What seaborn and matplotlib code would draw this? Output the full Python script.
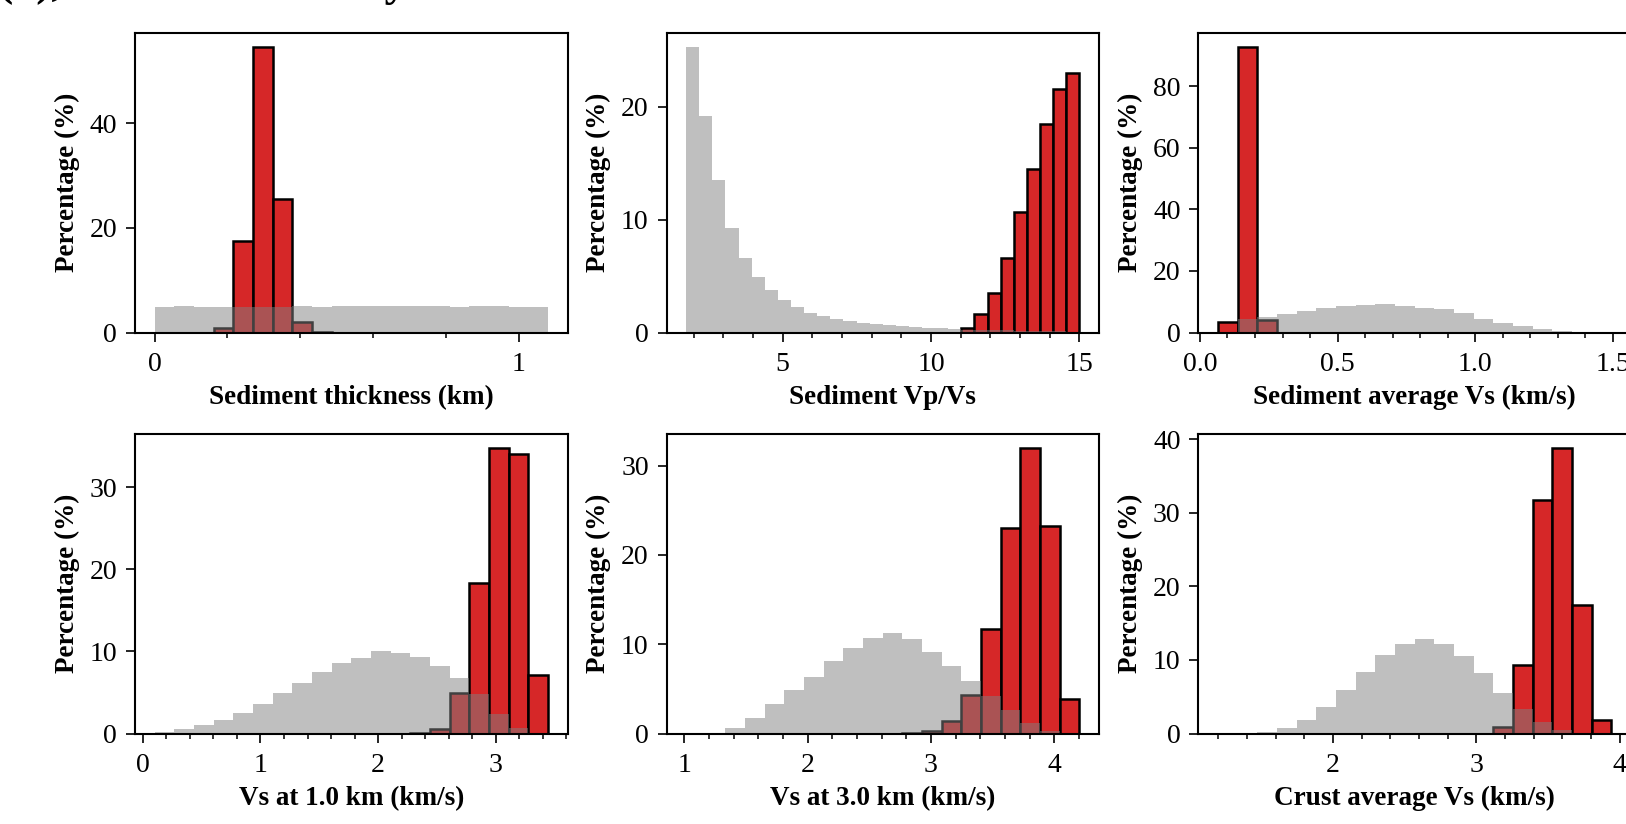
import numpy as np
import matplotlib
matplotlib.use("Agg")
import matplotlib.pyplot as plt
import seaborn as sns
from matplotlib.ticker import MultipleLocator

# ---------------- data (percentages per bin) ----------------
x_labels = ["Sediment thickness (km)", "Sediment Vp/Vs", "Sediment average Vs (km/s)",
            "Vs at 1.0 km (km/s)", "Vs at 3.0 km (km/s)", "Crust average Vs (km/s)"]
y_label = "Percentage (%)"

bin_lo = [0.0, 1.75, 0.0658, 0.100, 1.015, 1.197]
bin_hi = [1.08, 15.0, 1.494, 3.444, 4.204, 3.941]
n_bins = [20, 30, 20, 20, 20, 20]

prior_sed_thick = [4.9, 5.15, 4.95, 4.9, 4.95, 4.95, 4.9, 5.0, 4.95, 5.05,
                   5.0, 5.0, 5.05, 5.1, 5.0, 4.95, 5.0, 5.0, 4.95, 4.9]
post_sed_thick = [0, 0, 0, 0.8, 17.5, 54.6, 25.5, 2.0, 0.1, 0,
                  0, 0, 0, 0, 0, 0, 0, 0, 0, 0]

prior_vpvs = [25.3, 19.2, 13.5, 9.25, 6.6, 4.95, 3.8, 2.85, 2.25, 1.75,
              1.45, 1.2, 1.0, 0.85, 0.72, 0.62, 0.55, 0.48, 0.42, 0.36,
              0.3, 0.25, 0.22, 0.2, 0.18, 0.16, 0.14, 0.12, 0.1, 0.08]
post_vpvs = [0, 0, 0, 0, 0, 0, 0, 0, 0, 0,
             0, 0, 0, 0, 0, 0, 0, 0, 0, 0,
             0, 0.44, 1.6, 3.46, 6.6, 10.66, 14.5, 18.46, 21.6, 23.0]

prior_sed_vs = [0, 4.3, 5.1, 5.95, 7.0, 8.0, 8.65, 9.0, 9.2, 8.75,
                8.1, 7.5, 6.2, 4.55, 3.1, 2.05, 1.1, 0.4, 0.2, 0.1]
post_sed_vs = [3.35, 92.9, 4.2, 0, 0, 0, 0, 0, 0, 0,
               0, 0, 0, 0, 0, 0, 0, 0, 0, 0]

prior_vs1 = [0.15, 0.6, 1.06, 1.67, 2.52, 3.58, 4.92, 6.18, 7.44, 8.62,
             9.19, 10.0, 9.8, 9.3, 8.25, 6.7, 4.8, 2.36, 0.73, 0.1]
post_vs1 = [0, 0, 0, 0, 0, 0, 0, 0, 0, 0,
            0, 0, 0, 0.1, 0.53, 4.9, 18.3, 34.8, 34.1, 7.15]

prior_vs3 = [0.1, 0.1, 0.67, 1.72, 3.25, 4.86, 6.36, 8.16, 9.54, 10.7,
             11.26, 10.55, 9.17, 7.56, 5.84, 4.23, 2.66, 1.23, 0.3, 0.05]
post_vs3 = [0, 0, 0, 0, 0, 0, 0, 0, 0, 0,
            0, 0.05, 0.3, 1.35, 4.34, 11.67, 22.97, 32.0, 23.23, 3.85]

prior_crust = [0.05, 0.05, 0.15, 0.68, 1.86, 3.54, 5.9, 8.39, 10.7, 12.15,
               12.79, 12.15, 10.52, 8.2, 5.49, 3.36, 1.63, 0.45, 0.1, 0.02]
post_crust = [0, 0, 0, 0, 0, 0, 0, 0, 0, 0,
              0, 0, 0, 0, 0.82, 9.25, 31.75, 38.82, 17.41, 1.81]

priors = [prior_sed_thick, prior_vpvs, prior_sed_vs, prior_vs1, prior_vs3, prior_crust]
posts = [post_sed_thick, post_vpvs, post_sed_vs, post_vs1, post_vs3, post_crust]

x_major = [1.0, 5.0, 0.5, 1.0, 1.0, 1.0]
x_minor = [0.2, 1.0, 0.1, 0.2, 0.2, 0.2]
y_major = [20, 10, 20, 10, 10, 10]

title_text = "(a), Model sensitivity"

# ---------------- style ----------------
sns.set_theme(style="ticks", rc={
    "axes.edgecolor": "black", "xtick.color": "black", "ytick.color": "black",
    "text.color": "black", "axes.labelcolor": "black",
    "axes.linewidth": 1.5,
})
plt.rcParams['font.family'] = ['Liberation Serif', 'DejaVu Serif']

RED = "#d62728"

fig = plt.figure(figsize=(16.26, 8.24), dpi=100)
W, H = 1626.0, 824.0
col_left = [135.0, 666.5, 1198.4]
ax_w = 432.5
row_top = [32.5, 433.5]
ax_h = 300.0

for i in range(6):
    r, c = divmod(i, 3)
    ax = fig.add_axes([col_left[c] / W, (H - row_top[r] - ax_h) / H, ax_w / W, ax_h / H])
    edges = np.linspace(bin_lo[i], bin_hi[i], n_bins[i] + 1)
    centers = 0.5 * (edges[:-1] + edges[1:])

    post = np.asarray(posts[i], float)
    nz = np.nonzero(post)[0]
    a, b = nz.min(), nz.max()
    sns.histplot(x=list(centers[a:b + 1]), weights=list(post[a:b + 1]),
                 bins=list(edges[a:b + 2]),
                 color=RED, edgecolor="black", linewidth=1.8, alpha=1.0, ax=ax)

    prior = np.asarray(priors[i], float)
    nz = np.nonzero(prior)[0]
    a, b = nz.min(), nz.max()
    sns.histplot(x=list(centers[a:b + 1]), weights=list(prior[a:b + 1]),
                 bins=list(edges[a:b + 2]),
                 color="gray", linewidth=0, alpha=0.5, ax=ax)

    ax.set_xlabel(x_labels[i], fontsize=19.5, fontweight="bold", labelpad=5.5)
    ax.set_ylabel(y_label, fontsize=19.5, fontweight="bold", labelpad=7)
    ax.xaxis.set_major_locator(MultipleLocator(x_major[i]))
    ax.xaxis.set_minor_locator(MultipleLocator(x_minor[i]))
    ax.yaxis.set_major_locator(MultipleLocator(y_major[i]))
    ax.tick_params(axis="both", which="major", direction="out", length=6.3,
                   width=1.2, labelsize=20, top=False, right=False)
    ax.tick_params(axis="x", which="major", pad=8)
    ax.tick_params(axis="y", which="major", pad=6.5)
    ax.tick_params(axis="x", which="minor", direction="out", length=3.4, width=1.1,
                   bottom=True, top=False)
    for s in ax.spines.values():
        s.set_visible(True)
        s.set_linewidth(1.5)
        s.set_color("black")

fig.text(-2 / W, 1 + 5 / H, title_text, fontsize=33, fontweight="bold",
         ha="left", va="baseline")

fig.savefig("out.png", dpi=100)
